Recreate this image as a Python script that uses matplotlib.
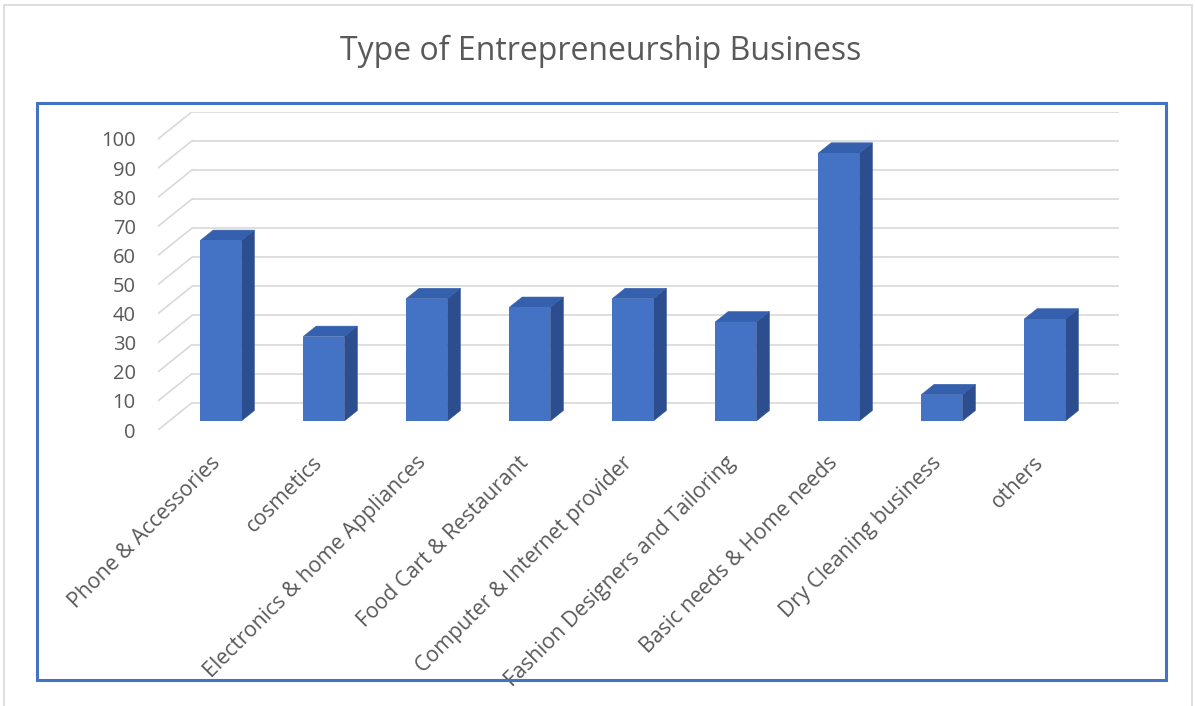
import matplotlib
matplotlib.use("Agg")
import matplotlib.pyplot as plt
from matplotlib.patches import Polygon, Rectangle

plt.rcParams["font.family"] = ["Open Sans", "DejaVu Sans"]

categories = [
    "Phone & Accessories",
    "cosmetics",
    "Electronics & home Appliances",
    "Food Cart & Restaurant",
    "Computer & Internet provider",
    "Fashion Designers and Tailoring",
    "Basic needs & Home needs",
    "Dry Cleaning business",
    "others",
]
values = [62, 29, 42, 39, 42, 34, 92, 9, 35]
yticks = list(range(0, 101, 10))

TEXT = "#595959"
GRID = "#D9D9D9"
FRONT = "#4472C4"
SIDE = "#2C4D8E"
TOP = "#3460AD"

W, H = 1195, 706
fig = plt.figure(figsize=(W / 100, H / 100), dpi=100)

# outer chart frame and blue plot-area frame (pixel geometry of the page)
fig.patches.append(Rectangle((4 / W, -0.05), 1188 / W, 1.05 - 5 / H,
                             transform=fig.transFigure, fill=False,
                             edgecolor="#D9D9D9", lw=1.2))
fig.patches.append(Rectangle((37 / W, 1 - 680 / H), 1129 / W, 577 / H,
                             transform=fig.transFigure, fill=False,
                             edgecolor="#4472C4", lw=2.2))

fig.text(601 / W, 1 - 51 / H, "Type of Entrepreneurship Business",
         ha="center", va="center", fontsize=23, color=TEXT)

# depth of the pseudo-3D floor in data units
n = len(categories)
DX = 34 / 103          # category units
DY = 27.3 / 2.91       # value units
bar_depth = 1 / 3      # bars sit a third of the way back
bar_thick = 0.38       # fraction of floor depth
width = 0.4

ax = fig.add_axes([158 / W, 1 - 430 / H, 961 / W, 318.3 / H])
ax.set_xlim(-0.5, n - 0.5 + DX)
ax.set_ylim(0, 100 + DY)
for s in ax.spines.values():
    s.set_visible(False)

# back wall gridlines + side wall diagonals
for t in yticks:
    ax.plot([-0.5 + DX, n - 0.5 + DX], [t + DY, t + DY], color=GRID,
            lw=1.2, zorder=1, solid_capstyle="butt")
    ax.plot([-0.5, -0.5 + DX], [t, t + DY], color=GRID, lw=1.2, zorder=1)

# bars
ox, oy = DX * bar_depth, DY * bar_depth
ddx, ddy = DX * bar_thick, DY * bar_thick
for i, v in enumerate(values):
    xl = i + ox - width / 2
    xr = i + ox + width / 2
    b = oy
    top = b + v
    ax.add_patch(Polygon([(xr, b), (xr + ddx, b + ddy), (xr + ddx, top + ddy),
                          (xr, top)], closed=True, facecolor=SIDE,
                         edgecolor=SIDE, lw=0.4, zorder=3))
    ax.add_patch(Polygon([(xl, top), (xr, top), (xr + ddx, top + ddy),
                          (xl + ddx, top + ddy)], closed=True, facecolor=TOP,
                         edgecolor=TOP, lw=0.4, zorder=3))
    ax.bar(i + ox, v, width=width, bottom=b, color=FRONT, linewidth=0,
           zorder=4)

ax.set_yticks(yticks)
ax.set_yticklabels([str(t) for t in yticks])
ax.set_xticks(range(n))
ax.set_xticklabels(categories, rotation=45, ha="right", va="top",
                   rotation_mode="anchor")
ax.tick_params(axis="y", length=0, pad=16, labelsize=14.5, labelcolor=TEXT)
ax.tick_params(axis="x", length=0, pad=16, labelsize=15.3, labelcolor=TEXT)

fig.savefig("out.png", dpi=100)
